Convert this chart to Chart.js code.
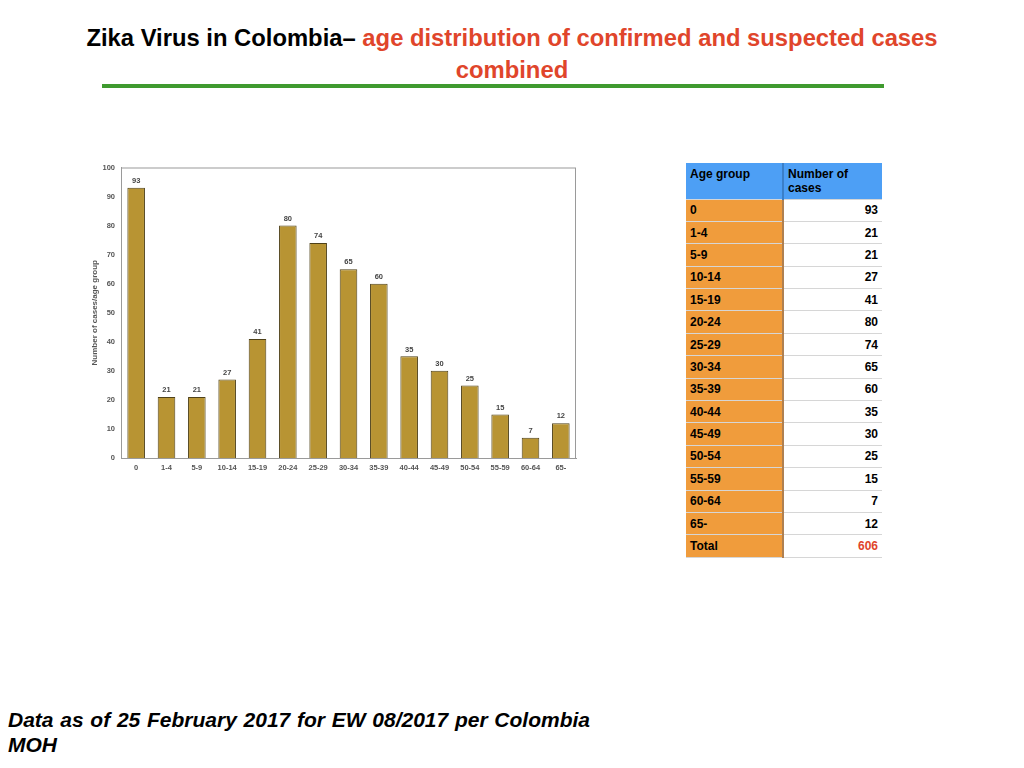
<!DOCTYPE html>
<html>
<head>
<meta charset="utf-8">
<script src="https://cdn.jsdelivr.net/npm/chart.js@4"></script>
<style>
  body { margin: 0; width: 1024px; height: 768px; background: #fff; position: relative; overflow: hidden;
         font-family: "Liberation Sans", Arial, sans-serif; }
  #title { position: absolute; left: 62px; top: 22px; width: 900px; text-align: center;
           font-size: 23.8px; font-weight: bold; line-height: 32px; color: #000; }
  #title .red { color: #e0452b; }
  #rule { position: absolute; left: 102px; top: 84px; width: 782px; height: 4px; background: #3f9a2f; }
  #chartBox { position: absolute; left: 90px; top: 157px; width: 490px; height: 323px; }
  #tbl { position: absolute; left: 686px; top: 163px; border-collapse: collapse; font-size: 12px; font-weight: bold; }
  #tbl td, #tbl th { padding: 0 4px; border-bottom: 1px solid #d6d6d6; }
  #tbl th { background: #4d9ff5; height: 36px; text-align: left; vertical-align: top; padding-top: 4px;
            font-size: 12px; line-height: 14px; box-sizing: border-box; }
  #tbl th.c1 { width: 97px; border-right: 2px solid #3a7fc8; }
  #tbl th.c2 { width: 99px; }
  #tbl td { height: 21.4px; }
  #tbl td.age { background: #f09c3c; border-right: 2px solid #b08050; }
  #tbl td.num { text-align: right; background: #fff; }
  #tbl td.tot { color: #e0452b; }
  #foot { position: absolute; left: 8px; top: 707px; width: 582px; font-size: 21px; font-weight: bold;
          font-style: italic; line-height: 25px; text-align: justify; text-align-last: left; }
</style>
</head>
<body>
<div id="title">Zika Virus in Colombia– <span class="red">age distribution of confirmed and suspected cases combined</span></div>
<div id="rule"></div>
<div id="chartBox"><canvas id="ageChart"></canvas></div>
<table id="tbl"></table>
<div id="foot">Data as of 25 February 2017 for EW 08/2017 per Colombia MOH</div>

<script>
// age groups and counts
let ageGroups = ["0", "1-4", "5-9", "10-14", "15-19", "20-24", "25-29", "30-34",
                 "35-39", "40-44", "45-49", "50-54", "55-59", "60-64", "65-"];
let caseCounts = [93, 21, 21, 27, 41, 80, 74, 65, 60, 35, 30, 25, 15, 7, 12];
let totalCases = 606;
let yTicks = [0, 10, 20, 30, 40, 50, 60, 70, 80, 90, 100];

// Build the table on the right
function buildTable() {
    let tbl = document.getElementById("tbl");
    let html = '<tr><th class="c1">Age group</th><th class="c2">Number of<br>cases</th></tr>';
    ageGroups.forEach((g, i) => {
        html += `<tr><td class="age">${g}</td><td class="num">${caseCounts[i]}</td></tr>`;
    });
    html += `<tr><td class="age">Total</td><td class="num tot">${totalCases}</td></tr>`;
    tbl.innerHTML = html;
}

// value labels above bars + the gray box round the plot
const barExtras = {
    id: "barExtras",
    afterDatasetsDraw(chart) {
        const ctx = chart.ctx;
        const meta = chart.getDatasetMeta(0);
        ctx.save();
        ctx.font = "bold 7.5px 'Liberation Sans', Arial, sans-serif";
        ctx.fillStyle = "#444";
        ctx.textAlign = "center";
        ctx.textBaseline = "bottom";
        meta.data.forEach((bar, i) => {
            ctx.fillText(caseCounts[i], bar.x, bar.y - 3);
        });
        const a = chart.chartArea;
        ctx.strokeStyle = "#9a9a9a";
        ctx.lineWidth = 1;
        ctx.strokeRect(a.left + 0.5, a.top + 0.5, a.right - a.left - 1, a.bottom - a.top);
        ctx.restore();
    }
};

function initChart() {
    const ctx = document.getElementById("ageChart").getContext("2d");
    const tickFont = { size: 7.5, weight: "bold", family: "'Liberation Sans', Arial" };
    new Chart(ctx, {
        type: "bar",
        data: {
            labels: ageGroups,
            datasets: [{
                data: caseCounts,
                backgroundColor: "#b89433",
                borderColor: "#4f4118",
                borderWidth: 1,
                barPercentage: 0.58,
                categoryPercentage: 1
            }]
        },
        options: {
            responsive: true,
            maintainAspectRatio: false,
            animation: false,
            layout: { padding: { top: 3, right: 4 } },
            plugins: { legend: { display: false }, tooltip: { enabled: false } },
            scales: {
                x: {
                    grid: { display: false, drawTicks: false },
                    border: { color: "#9a9a9a" },
                    ticks: { color: "#555", font: tickFont, maxRotation: 0, padding: 5 },
                    afterFit(scale) { scale.height = 22; }
                },
                y: {
                    min: 0,
                    max: 100,
                    afterBuildTicks(scale) { scale.ticks = yTicks.map(v => ({ value: v })); },
                    grid: { display: false, drawTicks: false },
                    border: { color: "#9a9a9a" },
                    ticks: { color: "#555", font: tickFont, padding: 6 },
                    title: { display: true, text: "Number of cases/age group", color: "#555",
                             font: { size: 8, weight: "bold", family: "'Liberation Sans', Arial" },
                             padding: { top: 0, bottom: 0 } },
                    afterFit(scale) { scale.width = 31; }
                }
            }
        },
        plugins: [barExtras]
    });
}

buildTable();
window.onload = initChart;
</script>
</body>
</html>
